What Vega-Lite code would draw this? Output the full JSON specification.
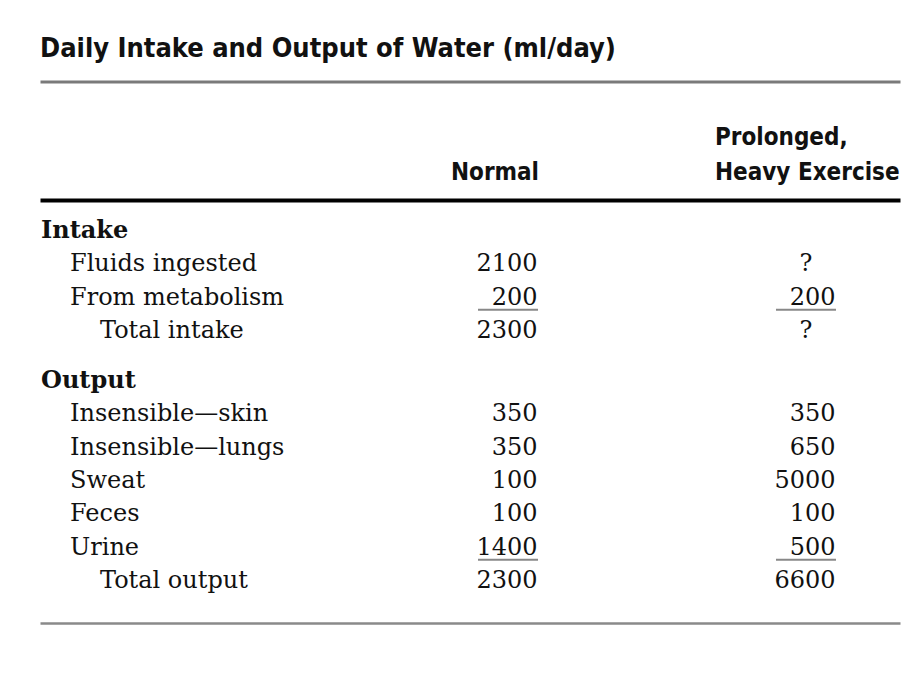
{
  "$schema": "https://vega.github.io/schema/vega-lite/v6.json",
  "autosize": {"type": "none"},
  "width": 860,
  "height": 423,
  "padding": {"left": 40, "top": 200, "right": 20, "bottom": 67},
  "background": "white",
  "title": {
    "text": "Daily Intake and Output of Water (ml/day)",
    "anchor": "start",
    "frame": "group",
    "font": "Liberation Sans Narrow, DejaVu Sans Condensed, Roboto Condensed, Arial Narrow, Roboto, sans-serif",
    "fontSize": 27,
    "fontWeight": "bold",
    "color": "#111111",
    "baseline": "alphabetic",
    "offset": -2
  },
  "data": {
    "values": [
      {"item": "Intake", "level": "section", "normal": null, "exercise": null},
      {"item": "Fluids ingested", "level": "item", "normal": 2100, "exercise": null},
      {"item": "From metabolism", "level": "item", "normal": 200, "exercise": 200},
      {"item": "Total intake", "level": "total", "normal": 2300, "exercise": null},
      {"item": "Output", "level": "section", "normal": null, "exercise": null},
      {"item": "Insensible—skin", "level": "item", "normal": 350, "exercise": 350},
      {"item": "Insensible—lungs", "level": "item", "normal": 350, "exercise": 650},
      {"item": "Sweat", "level": "item", "normal": 100, "exercise": 5000},
      {"item": "Feces", "level": "item", "normal": 100, "exercise": 100},
      {"item": "Urine", "level": "item", "normal": 1400, "exercise": 500},
      {"item": "Total output", "level": "total", "normal": 2300, "exercise": 6600}
    ]
  },
  "resolve": {"axis": {"x": "independent"}},
  "layer": [
    {
      "transform": [{"filter": "datum.level == 'section'"}],
      "mark": {"type": "text", "align": "left", "baseline": "alphabetic", "font": "DejaVu Serif", "fontSize": 24, "fontWeight": "bold", "color": "#111111", "dx": 1},
      "encoding": {
        "x": {
          "datum": "Item", "type": "nominal", "bandPosition": 0,
          "scale": {"type": "band", "domain": ["Item", "Normal", "Exercise"], "paddingInner": 0.114, "paddingOuter": 0, "align": 0},
          "axis": {
            "orient": "top", "title": null, "ticks": false, "grid": false,
            "domainColor": "#000000", "domainWidth": 4,
            "labelFont": "Liberation Sans Narrow, DejaVu Sans Condensed, Roboto Condensed, Arial Narrow, Roboto, sans-serif",
            "labelFontWeight": "bold", "labelFontSize": 24, "labelColor": "#111111",
            "labelBaseline": "bottom", "labelLineHeight": 35, "labelAngle": 0, "labelLimit": 0,
            "labelOverlap": false, "labelFlush": false, "labelBound": false,
            "labelPadding": {"condition": {"test": "datum.value == 'Exercise'", "value": 51}, "value": 16},
            "labelAlign": {"condition": {"test": "datum.value == 'Exercise'", "value": "left"}, "value": "center"},
            "labelOffset": {"condition": {"test": "datum.value == 'Exercise'", "value": -53}, "value": 25},
            "labelExpr": "datum.value == 'Exercise' ? ['Prolonged,', 'Heavy Exercise'] : (datum.value == 'Item' ? '' : datum.value)"
          }
        },
        "y": {
          "field": "item", "type": "nominal",
          "scale": {"type": "point", "domain": ["_a", "_b", "Intake", "_1", "Fluids ingested", "_2", "From metabolism", "_3", "Total intake", "_4", "_5", "Output", "_6", "Insensible—skin", "_7", "Insensible—lungs", "_8", "Sweat", "_9", "Feces", "_10", "Urine", "_11", "Total output", "_c", "_d"], "padding": 0.19, "align": 0.74},
          "axis": null
        },
        "text": {"field": "item"}
      }
    },
    {
      "transform": [{"filter": "datum.level == 'item'"}],
      "mark": {"type": "text", "align": "left", "baseline": "alphabetic", "font": "DejaVu Serif", "fontSize": 24, "color": "#111111", "dx": 30},
      "encoding": {
        "x": {"datum": "Item", "type": "nominal", "bandPosition": 0, "axis": null},
        "y": {"field": "item", "type": "nominal", "axis": null},
        "text": {"field": "item"}
      }
    },
    {
      "transform": [{"filter": "datum.level == 'total'"}],
      "mark": {"type": "text", "align": "left", "baseline": "alphabetic", "font": "DejaVu Serif", "fontSize": 24, "color": "#111111", "dx": 60},
      "encoding": {
        "x": {"datum": "Item", "type": "nominal", "bandPosition": 0, "axis": null},
        "y": {"field": "item", "type": "nominal", "axis": null},
        "text": {"field": "item"}
      }
    },
    {
      "transform": [{"filter": "isValid(datum.normal)"}],
      "mark": {"type": "text", "align": "right", "baseline": "alphabetic", "font": "DejaVu Serif", "fontSize": 24, "color": "#111111"},
      "encoding": {
        "x": {"datum": "Normal", "type": "nominal", "bandPosition": 0.756, "axis": null},
        "y": {"field": "item", "type": "nominal", "axis": null},
        "text": {"field": "normal", "type": "quantitative", "format": "d"}
      }
    },
    {
      "transform": [{"filter": "isValid(datum.exercise)"}],
      "mark": {"type": "text", "align": "right", "baseline": "alphabetic", "font": "DejaVu Serif", "fontSize": 24, "color": "#111111"},
      "encoding": {
        "x": {"datum": "Exercise", "type": "nominal", "bandPosition": 0.756, "axis": null},
        "y": {"field": "item", "type": "nominal", "axis": null},
        "text": {"field": "exercise", "type": "quantitative", "format": "d"}
      }
    },
    {
      "transform": [{"filter": "datum.level != 'section' && !isValid(datum.exercise)"}],
      "mark": {"type": "text", "align": "center", "baseline": "alphabetic", "font": "DejaVu Serif", "fontSize": 24, "color": "#111111"},
      "encoding": {
        "x": {"datum": "Exercise", "type": "nominal", "bandPosition": 0.644, "axis": null},
        "y": {"field": "item", "type": "nominal", "axis": null},
        "text": {"value": "?"}
      }
    },
    {
      "transform": [{"filter": "datum.item == 'From metabolism' || datum.item == 'Urine'"}],
      "mark": {"type": "tick", "orient": "horizontal", "size": 60, "thickness": 2, "color": "#555555", "yOffset": 5, "xOffset": 38},
      "encoding": {
        "x": {
          "datum": "Normal", "type": "nominal",
          "axis": {"orient": "top", "offset": 118.5, "title": null, "labels": false, "ticks": false, "grid": false, "domainColor": "#7a7a7a", "domainWidth": 3, "minExtent": 0, "maxExtent": 0}
        },
        "y": {"field": "item", "type": "nominal", "axis": null}
      }
    },
    {
      "transform": [{"filter": "datum.item == 'From metabolism' || datum.item == 'Urine'"}],
      "mark": {"type": "tick", "orient": "horizontal", "size": 60, "thickness": 2, "color": "#555555", "yOffset": 5, "xOffset": 38},
      "encoding": {
        "x": {
          "datum": "Exercise", "type": "nominal",
          "axis": {"orient": "bottom", "title": null, "labels": false, "ticks": false, "grid": false, "domainColor": "#8a8a8a", "domainWidth": 2.5, "minExtent": 0, "maxExtent": 0}
        },
        "y": {"field": "item", "type": "nominal", "axis": null}
      }
    }
  ],
  "config": {"view": {"stroke": null}}
}
